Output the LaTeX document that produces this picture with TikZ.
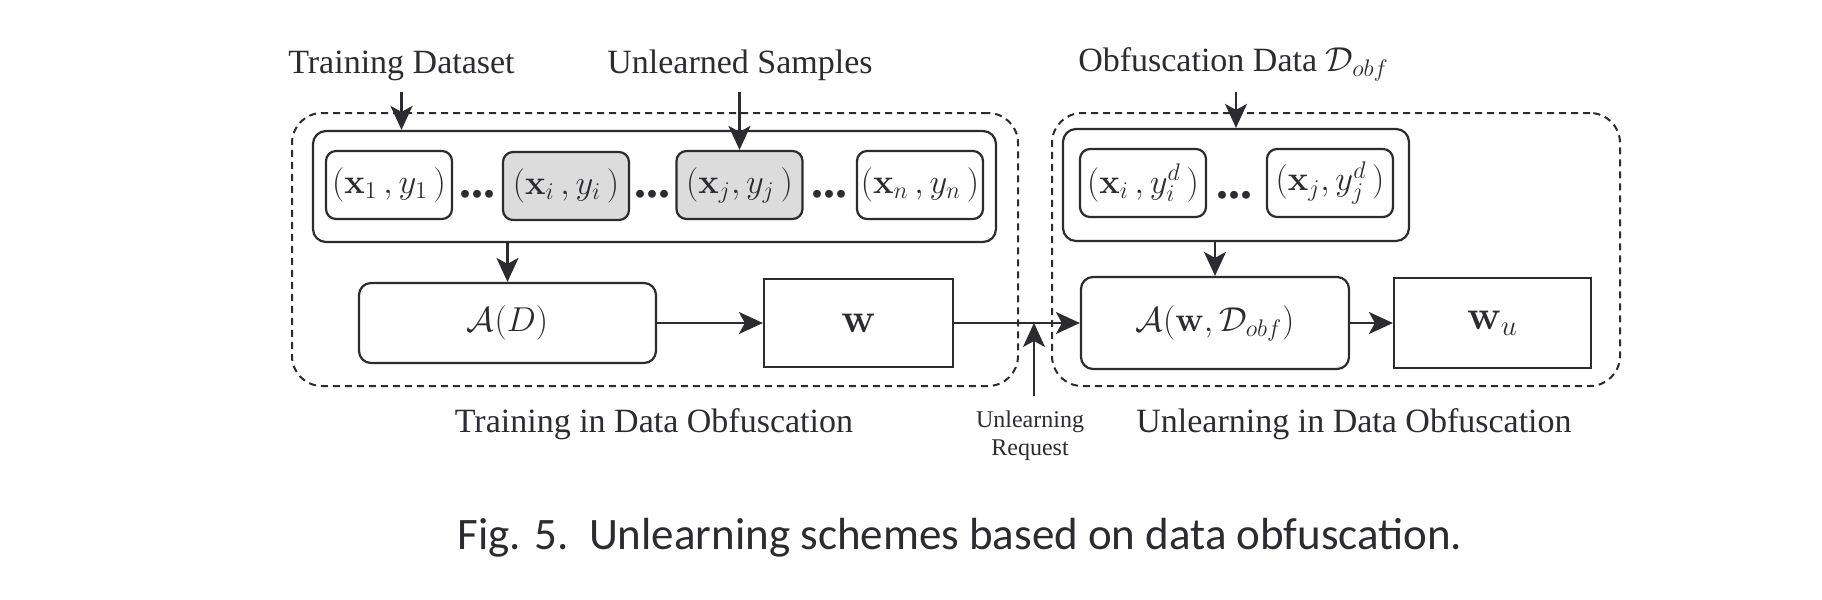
\documentclass[tikz,border=0pt]{standalone}
\usepackage[no-math]{fontspec}
\usepackage{amsmath,amssymb,bm}
\usetikzlibrary{arrows.meta}
\newfontfamily\lblfont{Liberation Serif}
\newfontfamily\capfont{Carlito}
\definecolor{ink}{HTML}{2B2B30}
\definecolor{hl}{HTML}{DCDCDC}

\tikzset{
  every node/.style={text=ink},
  arr/.style={-{Stealth[length=12pt,width=11pt,inset=3pt]},line width=1.1pt,draw=ink},
  region/.style={draw=ink,dash pattern=on 3.5pt off 2.5pt,line width=1pt,rounded corners=15pt},
  grp/.style={draw=ink,line width=1.1pt,rounded corners=6.5pt},
  sample/.style={draw=ink,line width=1.1pt,rounded corners=5pt,minimum width=63pt,minimum height=34pt,
    inner sep=0pt,font=\fontsize{17}{20}\selectfont},
  picked/.style={sample,fill=hl},
  algo/.style={draw=ink,line width=1.1pt,rounded corners=6pt,inner sep=0pt,font=\fontsize{17}{20}\selectfont},
  model/.style={draw=ink,line width=1.1pt,inner sep=0pt,font=\fontsize{21}{24}\selectfont},
  lbl/.style={font=\lblfont\fontsize{17}{20}\selectfont,inner sep=0pt,anchor=base},
  dotsep/.style={font=\lblfont\bfseries\fontsize{24}{24}\selectfont,inner sep=0pt,anchor=base},
}

\begin{document}
\begin{tikzpicture}[x=0.5pt,y=-0.5pt]
  \useasboundingbox (0,0) rectangle (1822,600);

  % dashed regions
  \node[region,minimum width=363pt,minimum height=136.5pt] (train) at (655,249.5) {};
  \node[region,minimum width=284pt,minimum height=136.5pt] (unlearn) at (1336,249.5) {};

  % training data
  \node[grp,minimum width=341.5pt,minimum height=55.5pt] (dl) at (654.5,186.5) {};
  \node[sample] (x1) at (389,185) {$(\mathbf{x}_1\,, y_1\,)$};
  \node[dotsep] (d1) at (477,197) {...};
  \node[picked] (xi) at (566,186) {$(\mathbf{x}_i\,, y_i\,)$};
  \node[dotsep] (d2) at (652,197) {...};
  \node[picked] (xj) at (739.5,185) {$(\mathbf{x}_j, y_j\,)$};
  \node[dotsep] (d3) at (829,197) {...};
  \node[sample] (xn) at (920,185) {$(\mathbf{x}_n\,, y_n\,)$};

  % obfuscation data
  \node[grp,minimum width=173pt,minimum height=56pt] (ob) at (1236,185) {};
  \node[sample] (ri) at (1143,183) {$(\mathbf{x}_i\,, y_i^d\,)$};
  \node[dotsep] (d4) at (1234,198) {...};
  \node[sample] (rj) at (1330,183) {$(\mathbf{x}_j, y_j^d\,)$};

  % algorithms and models
  \node[algo,minimum width=148.5pt,minimum height=40pt] (ad) at (507.5,323) {$\mathcal{A}(D)$};
  \node[model,minimum width=94.5pt,minimum height=44pt] (w) at (858.5,323) {$\mathbf{w}$};
  \node[algo,minimum width=134pt,minimum height=46pt] (aw) at (1215,323) {$\mathcal{A}(\mathbf{w},\mathcal{D}_{obf})$};
  \node[model,minimum width=98.5pt,minimum height=45pt] (wu) at (1492.5,323) {$\mathbf{w}_u$};

  % labels
  \node[lbl] (tds) at (401.5,73) {Training Dataset};
  \node[lbl] (uls) at (740,73) {Unlearned Samples};
  \node[lbl] (obf) at (1233.5,71) {Obfuscation Data $\mathcal{D}_{obf}$};
  \node[lbl] (tlab) at (654,432) {Training in Data Obfuscation};
  \node[lbl] (ulab) at (1354,432) {Unlearning in Data Obfuscation};
  \node[font=\lblfont\fontsize{12}{14}\selectfont,inner sep=0pt,align=center,anchor=base] (req) at (1030,455)
    {Unlearning\\Request};
  \node[font=\capfont\fontsize{22.5}{26}\selectfont,inner sep=0pt,anchor=base] (cap) at (960,549)
    {Fig. 5.\ \ Unlearning schemes based on data obfuscation.};

  % connectors
  \coordinate (hit) at (1034,323);
  \draw[arr] (tds.base) ++(0,19) -- (tds.base |- dl.north);
  \draw[arr] (xj.north |- uls.base) ++(0,19) -- (xj.north);
  \draw[arr] (ob.north |- obf.base) ++(0,21) -- (ob.north);
  \draw[arr] (dl.south -| ad.north) -- (ad.north);
  \draw[arr] (ob.south -| aw.north) -- (aw.north);
  \draw[arr] (ad) -- (w);
  \draw[arr] (w) -- (aw);
  \draw[arr] (aw) -- (wu);
  \draw[arr] (req.north -| hit) ++(0,-14) -- (hit);

\end{tikzpicture}
\end{document}
